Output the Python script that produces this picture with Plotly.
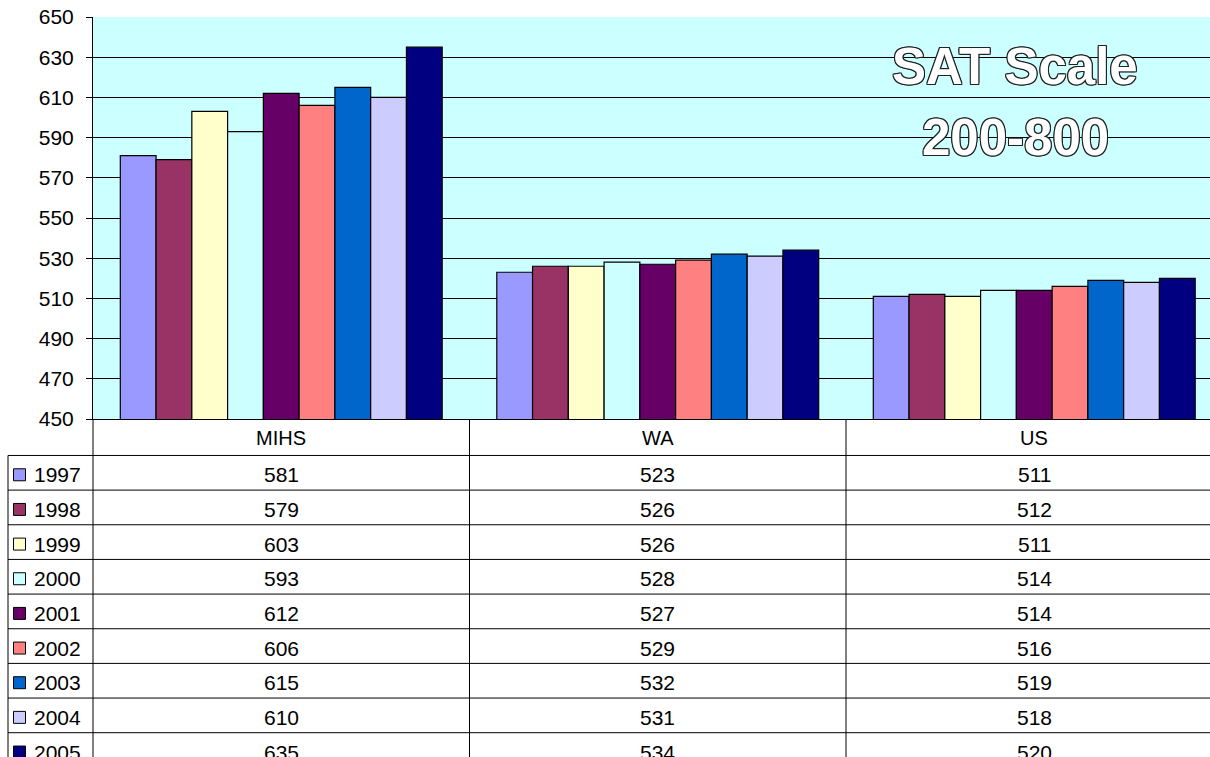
import plotly.graph_objects as go

categories = ["MIHS", "WA", "US"]
years = ["1997", "1998", "1999", "2000", "2001", "2002", "2003", "2004", "2005"]
scores = {
    "1997": [581, 523, 511],
    "1998": [579, 526, 512],
    "1999": [603, 526, 511],
    "2000": [593, 528, 514],
    "2001": [612, 527, 514],
    "2002": [606, 529, 516],
    "2003": [615, 532, 519],
    "2004": [610, 531, 518],
    "2005": [635, 534, 520],
}
colors = ["#9999FF", "#993366", "#FFFFCC", "#CCFFFF", "#660066",
          "#FF8080", "#0066CC", "#CCCCFF", "#000080"]
y_ticks = list(range(450, 651, 20))

W, H = 1210, 757
L, T = 93, 17
PLOT_B = 419.5
PW = W - L
PH = PLOT_B - T
CAT_W = 376.5
FONT = "Liberation Sans, Arial, sans-serif"


def yp(py):
    return 1 - (py - T) / PH


def xp(px):
    return (px - L) / PW


fig = go.Figure()
for yr, col in zip(years, colors):
    fig.add_trace(go.Bar(
        name=yr, x=list(range(len(categories))), y=scores[yr],
        marker=dict(color=col, line=dict(color="black", width=1.2)),
        showlegend=False,
    ))

shapes = []
annotations = []

ROW0 = 456.0
ROW_H = 34.7
LINE = dict(color="black", width=1)

# horizontal table lines
for i in range(len(years)):
    y = yp(ROW0 + i * ROW_H)
    shapes.append(dict(type="line", xref="paper", yref="paper",
                       x0=xp(8), x1=1, y0=y, y1=y, line=LINE))
# vertical lines
shapes.append(dict(type="line", xref="paper", yref="paper",
                   x0=0, x1=0, y0=0, y1=yp(H + 5), line=LINE))
shapes.append(dict(type="line", xref="paper", yref="paper",
                   x0=xp(8), x1=xp(8), y0=yp(ROW0), y1=yp(H + 5), line=LINE))
for b in range(len(categories) - 1):
    shapes.append(dict(type="line", xref="x", yref="paper",
                       x0=b + 0.5, x1=b + 0.5, y0=0, y1=yp(H + 5), line=LINE))

# header
for i, c in enumerate(categories):
    annotations.append(dict(x=i, y=yp((PLOT_B + ROW0) / 2 + 1), xref="x", yref="paper",
                            text=c, showarrow=False, xanchor="center", yanchor="middle",
                            font=dict(family=FONT, size=20, color="black")))

# rows
for r, (yr, col) in enumerate(zip(years, colors)):
    cy = ROW0 + r * ROW_H + ROW_H / 2 + 2
    shapes.append(dict(type="rect", xref="paper", yref="paper",
                       x0=xp(13.5), x1=xp(25.5), y0=yp(cy - 6), y1=yp(cy + 6),
                       fillcolor=col, line=dict(color="black", width=1)))
    annotations.append(dict(x=xp(32), y=yp(cy), xref="paper", yref="paper",
                            text=yr, showarrow=False, xanchor="left", yanchor="middle",
                            font=dict(family=FONT, size=21, color="black")))
    for i, v in enumerate(scores[yr]):
        annotations.append(dict(x=i, y=yp(cy), xref="x", yref="paper",
                                text=str(v), showarrow=False, xanchor="center",
                                yanchor="middle",
                                font=dict(family=FONT, size=21, color="black")))

outline = ("1px 0 0 #222, -1px 0 0 #222, 0 1px 0 #222, 0 -1px 0 #222, "
           "1px 1px 0 #222, -1px -1px 0 #222, 1px -1px 0 #222, -1px 1px 0 #222")
for txt, py in [("SAT Scale", 67), ("200-800", 138)]:
    annotations.append(dict(x=xp(1015), y=yp(py), xref="paper", yref="paper",
                            text=txt, showarrow=False, xanchor="center", yanchor="middle",
                            font=dict(family=FONT, size=51, color="white",
                                      weight="bold", shadow=outline)))

fig.update_layout(
    width=W, height=H,
    margin=dict(l=L, r=0, t=T, b=H - PLOT_B),
    paper_bgcolor="white", plot_bgcolor="#CCFFFF",
    barmode="group", bargap=0.145, bargroupgap=0,
    shapes=shapes, annotations=annotations,
    xaxis=dict(range=[-0.5, -0.5 + PW / CAT_W], showticklabels=False, ticks="",
               showgrid=False, zeroline=False, showline=True, linecolor="black",
               linewidth=1, fixedrange=True),
    yaxis=dict(range=[450, 650], tickvals=y_ticks, ticks="outside", ticklen=6,
               tickcolor="black", showgrid=True, gridcolor="black", gridwidth=1,
               showline=True, linecolor="black", linewidth=1, zeroline=False,
               tickfont=dict(family=FONT, size=21, color="black"),
               ticklabelstandoff=8, fixedrange=True),
    font=dict(family=FONT),
)

fig.write_html("out.html", config={"displayModeBar": False},
               post_script="document.body.style.margin='0';document.body.style.overflow='hidden';")
